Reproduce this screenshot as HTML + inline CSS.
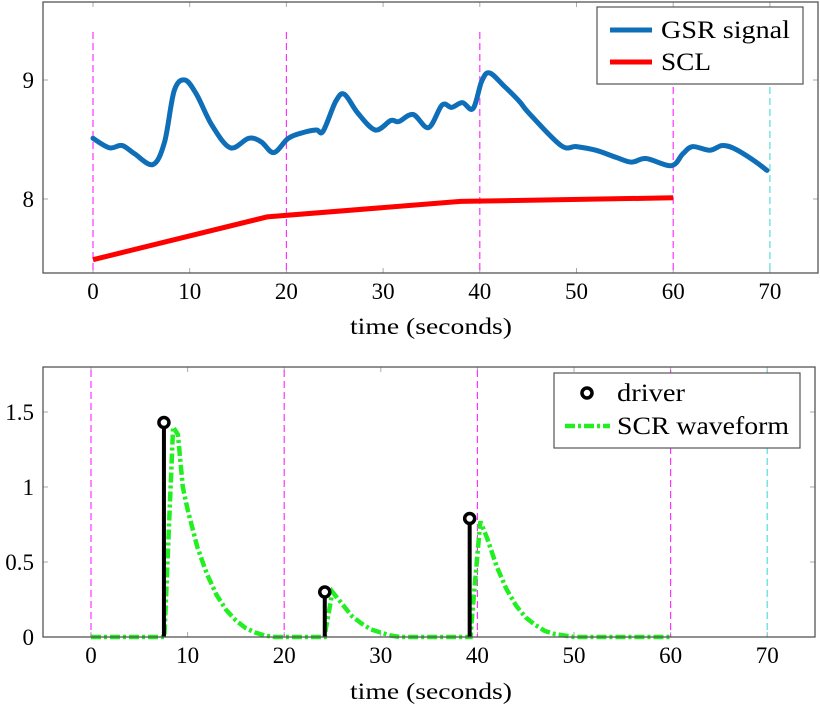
<!DOCTYPE html>
<html><head><meta charset="utf-8"><style>
html,body{margin:0;padding:0;background:#fff;}
svg{display:block;font-family:"Liberation Serif",serif;}
</style></head><body>
<svg id="chart" width="820" height="710" viewBox="0 0 820 710"></svg>
<script>
// ---- data ----
const gsrT = [0,1.7,3,4.3,6.2,7.4,8.4,9.5,10.7,12.3,14.2,16.1,17.4,18.7,20.2,21.8,23.1,23.8,25.1,26,27.4,29.2,30.8,31.6,33.1,34.7,36.1,37.1,38.2,39.3,40.2,41,42.5,44.1,45.1,48.4,50,52,54.1,55.7,57.2,59.8,61,62,63.8,65.1,66.4,68.4,69.7];
const gsrV = [8.51,8.43,8.45,8.38,8.29,8.48,8.91,9.0,8.88,8.62,8.43,8.51,8.48,8.39,8.51,8.56,8.58,8.57,8.82,8.88,8.72,8.58,8.66,8.65,8.71,8.60,8.79,8.77,8.81,8.76,8.99,9.06,8.95,8.82,8.72,8.45,8.44,8.41,8.35,8.31,8.34,8.28,8.38,8.44,8.41,8.45,8.42,8.32,8.24];
const sclT = [0,18,38,60];
const sclV = [7.49,7.85,7.98,8.01];
const markerT = [0,20,40,60];
const endT = [70];
const driverT = [7.55,24.2,39.2];
const driverV = [1.43,0.30,0.79];
const scrT = [0,7.6,8.5,9,9.5,10,11,12,13,14,15,16,17,18,19,24.2,24.3,25,26,27,28,29,30,31,32,39.3,39.4,40.3,41,42,43,44,45,46,47,48,49,50,60];
const scrV = [0,0,1.4,1.35,1.0,0.85,0.6,0.42,0.28,0.18,0.11,0.06,0.03,0.01,0,0,0.05,0.3,0.22,0.14,0.09,0.05,0.03,0.01,0,0,0.1,0.77,0.66,0.47,0.32,0.21,0.13,0.08,0.04,0.02,0.01,0,0];
const xTicks = [0,10,20,30,40,50,60,70];
const yTicksTop = [8,9];
const yTicksBot = [0,0.5,1,1.5];
const yLabelsBot = ["0","0.5","1","1.5"];

const NS="http://www.w3.org/2000/svg";
const svg=document.getElementById('chart');
function mk(tag,attrs,parent){const e=document.createElementNS(NS,tag);for(const k in attrs)e.setAttribute(k,attrs[k]);(parent||svg).appendChild(e);return e;}
function smooth(pts){
  let d='M'+pts[0][0].toFixed(1)+','+pts[0][1].toFixed(1);
  for(let i=0;i<pts.length-1;i++){
    const p0=pts[Math.max(0,i-1)],p1=pts[i],p2=pts[i+1],p3=pts[Math.min(pts.length-1,i+2)];
    const c1=[p1[0]+(p2[0]-p0[0])/6,p1[1]+(p2[1]-p0[1])/6];
    const c2=[p2[0]-(p3[0]-p1[0])/6,p2[1]-(p3[1]-p1[1])/6];
    d+='C'+c1[0].toFixed(1)+','+c1[1].toFixed(1)+' '+c2[0].toFixed(1)+','+c2[1].toFixed(1)+' '+p2[0].toFixed(1)+','+p2[1].toFixed(1);
  }
  return d;
}

function panel(p){
  const g=mk('g',{});
  
  
  const X=t=>p.x0+t*p.xs, Y=v=>p.yb-(v-p.ymin)*p.ys;
  xTicks.forEach(t=>{
    mk('line',{x1:X(t),x2:X(t),y1:p.bottom,y2:p.bottom-5,stroke:'#aaa','stroke-width':1},g);
    mk('line',{x1:X(t),x2:X(t),y1:p.top,y2:p.top+5,stroke:'#aaa','stroke-width':1},g);
    const tx=mk('text',{x:X(t),y:p.bottom+26,'text-anchor':'middle','font-size':23},g);
    tx.textContent=t;
    
    
  });
  p.yt.forEach((v,i)=>{
    mk('line',{x1:p.left,x2:p.left+5,y1:Y(v),y2:Y(v),stroke:'#aaa','stroke-width':1},g);
    mk('line',{x1:p.right,x2:p.right-5,y1:Y(v),y2:Y(v),stroke:'#aaa','stroke-width':1},g);
    const tx=mk('text',{x:p.left-9,y:Y(v)+8,'text-anchor':'end','font-size':23},g);
    tx.textContent=p.yl[i];
    
    
  });
  markerT.forEach(t=>{const l=mk('line',{x1:X(t),x2:X(t),y1:p.dTop,y2:p.bottom,stroke:'#ff33ff','stroke-width':1.2,'stroke-dasharray':'7,4'},g);
    });
  endT.forEach(t=>{const l=mk('line',{x1:X(t),x2:X(t),y1:p.dTop,y2:p.bottom,stroke:'#55dddd','stroke-width':1.2,'stroke-dasharray':'7,4'},g);
    });
  const ttl=mk('text',{x:431,y:p.bottom+p.titleOff,'text-anchor':'middle','font-size':23,textLength:162,lengthAdjust:'spacingAndGlyphs'},g);
  ttl.textContent='time (seconds)';
  
  
  return {g,X,Y};
}

// ---- top panel ----
const A={name:'gsr-panel',left:43,right:818,top:2,bottom:273,x0:93,xs:9.67,yb:199,ymin:8,ys:119,yt:yTicksTop,yl:["8","9"],dTop:32,titleOff:61};
const pa=panel(A);
let e=mk('path',{d:smooth(gsrT.map((t,i)=>[pa.X(t),pa.Y(gsrV[i])])),fill:'none',stroke:'#0e6fb8','stroke-width':5,'stroke-linejoin':'round','stroke-linecap':'round'},pa.g);

let d=sclT.map((t,i)=>(i?'L':'M')+pa.X(t).toFixed(1)+','+pa.Y(sclV[i]).toFixed(1)).join('');
e=mk('path',{d,fill:'none',stroke:'#ff0000','stroke-width':5},pa.g);

mk('rect',{x:A.left,y:A.top,width:A.right-A.left,height:A.bottom-A.top,fill:'none',stroke:'#555','stroke-width':1.3},pa.g);
const lg1=mk('g',{},pa.g);

mk('rect',{x:597,y:7,width:206,height:77,fill:'#fff',stroke:'#555','stroke-width':1.2},lg1);
mk('line',{x1:610,x2:652,y1:30,y2:30,stroke:'#0e6fb8','stroke-width':5},lg1);
mk('line',{x1:610,x2:652,y1:62,y2:62,stroke:'#ff0000','stroke-width':5},lg1);
let t1=mk('text',{x:661,y:38,'font-size':25,textLength:129,lengthAdjust:'spacingAndGlyphs'},lg1);t1.textContent='GSR signal';

let t2=mk('text',{x:661,y:70,'font-size':25,textLength:50,lengthAdjust:'spacingAndGlyphs'},lg1);t2.textContent='SCL';


// ---- bottom panel ----
const B={name:'scr-panel',left:43,right:815,top:367,bottom:637,x0:91,xs:9.66,yb:637,ymin:0,ys:150,yt:yTicksBot,yl:yLabelsBot,dTop:370,titleOff:62};
const pb=panel(B);
d=scrT.map((t,i)=>(i?'L':'M')+pb.X(t).toFixed(1)+','+pb.Y(scrV[i]).toFixed(1)).join('');
e=mk('path',{d,fill:'none',stroke:'#22ee22','stroke-width':4.5,'stroke-dasharray':'10,3,3,3'},pb.g);

driverT.forEach((t,i)=>{
  const s=mk('line',{x1:pb.X(t),x2:pb.X(t),y1:pb.Y(0),y2:pb.Y(driverV[i]),stroke:'#000','stroke-width':4},pb.g);
  
  const c=mk('circle',{cx:pb.X(t),cy:pb.Y(driverV[i]),r:5,fill:'#fff',stroke:'#000','stroke-width':3.5},pb.g);
  
});
mk('rect',{x:B.left,y:B.top,width:B.right-B.left,height:B.bottom-B.top,fill:'none',stroke:'#555','stroke-width':1.3},pb.g);
const lg2=mk('g',{},pb.g);

mk('rect',{x:554,y:373,width:246,height:75,fill:'#fff',stroke:'#555','stroke-width':1.2},lg2);
mk('circle',{cx:587,cy:393,r:5,fill:'#fff',stroke:'#000','stroke-width':3.5},lg2);
mk('line',{x1:565,x2:610,y1:426,y2:426,stroke:'#22ee22','stroke-width':4.5,'stroke-dasharray':'10,3,3,3'},lg2);
let t3=mk('text',{x:617,y:401,'font-size':25,textLength:68,lengthAdjust:'spacingAndGlyphs'},lg2);t3.textContent='driver';

let t4=mk('text',{x:617,y:434,'font-size':25,textLength:172,lengthAdjust:'spacingAndGlyphs'},lg2);t4.textContent='SCR waveform';

</script>
</body></html>
